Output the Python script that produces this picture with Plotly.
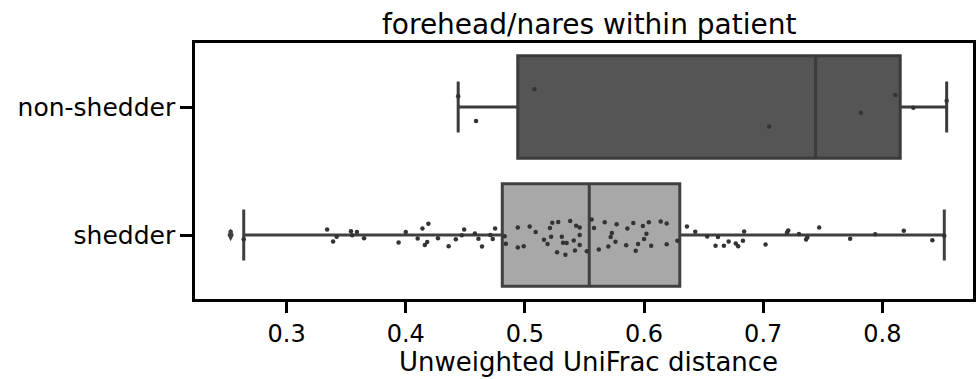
import plotly.graph_objects as go

# ---- data ----
categories = ["non-shedder", "shedder"]

nonshedder_values = [0.444, 0.459, 0.508, 0.705, 0.782, 0.811, 0.826, 0.854]

shedder_values = [
    0.253, 0.264,
    0.334, 0.339, 0.342, 0.354, 0.355, 0.359, 0.365, 0.394, 0.400, 0.410,
    0.414, 0.416, 0.418, 0.419, 0.427, 0.436,
    0.442, 0.447, 0.449, 0.458, 0.461, 0.464, 0.471, 0.473, 0.475, 0.483,
    0.484, 0.494, 0.494, 0.499, 0.504, 0.509, 0.516, 0.519, 0.521, 0.522,
    0.523, 0.527, 0.528, 0.531, 0.532, 0.534, 0.535, 0.538, 0.541, 0.542,
    0.543, 0.546, 0.546, 0.546, 0.552, 0.556, 0.558, 0.562, 0.567, 0.570,
    0.572, 0.573, 0.576, 0.577, 0.585, 0.586, 0.591, 0.593, 0.595, 0.599,
    0.600, 0.602, 0.604, 0.606, 0.614, 0.619, 0.619, 0.628, 0.636, 0.643,
    0.653, 0.660, 0.662, 0.667, 0.671, 0.677, 0.679, 0.683, 0.684, 0.702,
    0.720, 0.721, 0.730, 0.736, 0.737, 0.747, 0.773, 0.794, 0.818, 0.842,
    0.852,
]

# box statistics: [non-shedder, shedder]
box_q1 = [0.494, 0.481]
box_median = [0.744, 0.554]
box_q3 = [0.815, 0.630]
box_lowerfence = [0.444, 0.264]
box_upperfence = [0.854, 0.852]
shedder_outliers = [0.253]

x_tickvals = [0.3, 0.4, 0.5, 0.6, 0.7, 0.8]
x_ticktext = ["0.3", "0.4", "0.5", "0.6", "0.7", "0.8"]

title_text = "forehead/nares within patient"
xlabel_text = "Unweighted UniFrac distance"

# ---- styling ----
FONT = "DejaVu Sans"
box_fill = ["#555555", "#a8a8a8"]
box_line = ["#3b3b3b", "#404040"]
point_color = "#333333"

fig = go.Figure()

for i, cat in enumerate(categories):
    fig.add_trace(go.Box(
        y=[cat], q1=[box_q1[i]], median=[box_median[i]], q3=[box_q3[i]],
        lowerfence=[box_lowerfence[i]], upperfence=[box_upperfence[i]],
        orientation="h", width=0.8, whiskerwidth=0.5,
        fillcolor=box_fill[i], line=dict(color=box_line[i], width=3),
        boxpoints=False, showlegend=False, hoverinfo="skip",
    ))

fig.add_trace(go.Scatter(
    x=shedder_outliers, y=["shedder"] * len(shedder_outliers), mode="markers",
    marker=dict(symbol="diamond-tall", size=9, color="#404040"),
    showlegend=False, hoverinfo="skip",
))

for cat, vals in (("non-shedder", nonshedder_values), ("shedder", shedder_values)):
    fig.add_trace(go.Box(
        x=vals, y=[cat] * len(vals), orientation="h", width=0.8,
        boxpoints="all", jitter=0.45, pointpos=0,
        fillcolor="rgba(0,0,0,0)", line=dict(color="rgba(0,0,0,0)", width=0),
        marker=dict(color=point_color, size=4.5),
        showlegend=False, hoverinfo="skip",
    ))

axis_common = dict(
    showline=True, linewidth=2.5, linecolor="black", mirror=True,
    ticks="outside", tickwidth=2.5, tickcolor="black",
    showgrid=False, zeroline=False,
)

fig.update_layout(
    width=976, height=379,
    margin=dict(l=195, r=0, t=43, b=80),
    plot_bgcolor="white", paper_bgcolor="white",
    boxmode="overlay",
    showlegend=False,
    xaxis=dict(range=[0.2231, 0.8761], tickvals=x_tickvals, ticktext=x_ticktext,
               ticklen=11, tickfont=dict(family=FONT, size=24, color="black"),
               **axis_common),
    yaxis=dict(type="category", categoryorder="array",
               categoryarray=["shedder", "non-shedder"], range=[-0.5, 1.5],
               ticklen=12, tickfont=dict(family=FONT, size=25, color="black"),
               **axis_common),
    annotations=[
        dict(text=title_text, xref="paper", yref="paper", x=0.5058, y=1.074,
             xanchor="center", yanchor="middle", showarrow=False,
             font=dict(family=FONT, size=28, color="black")),
        dict(text=xlabel_text, xref="paper", yref="paper", x=0.5058, y=-0.2461,
             xanchor="center", yanchor="middle", showarrow=False, borderpad=0,
             font=dict(family=FONT, size=26, color="black")),
    ],
)

fig.write_html("out.html")
